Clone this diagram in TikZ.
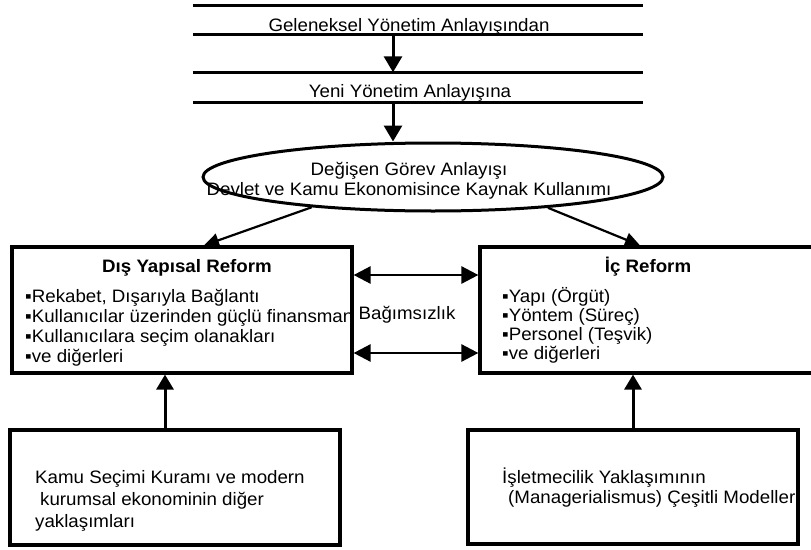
\documentclass[tikz,border=0pt]{standalone}
\usepackage{fontspec}
\setmainfont[FakeStretch=1.04]{Liberation Sans}
\usetikzlibrary{arrows.meta,shapes.geometric}
\begin{document}
\begin{tikzpicture}[x=1pt,y=-1pt,
  txt/.style={inner sep=0pt, font=\fontsize{18}{20}\selectfont},
  ttl/.style={inner sep=0pt, font=\fontsize{18}{20}\selectfont\bfseries},
  bandline/.style={line width=2.8pt},
  boxnode/.style={draw, line width=3.2pt, inner sep=0pt},
  vbig/.style={line width=3pt, -{Triangle[length=16pt,width=18pt]}},
  vup/.style={line width=3pt, -{Triangle[length=15pt,width=17pt]}},
  diag/.style={line width=2.2pt, -{Triangle[length=15pt,width=14pt]}},
  both/.style={line width=2.6pt, {Triangle[length=17pt,width=17pt]}-{Triangle[length=17pt,width=17pt]}},
]
\useasboundingbox (0,0) rectangle (811,549);
\fill[white] (0,0) rectangle (811,549);

% top bands
\node[minimum width=450pt, minimum height=28.5pt, inner sep=0pt] (band1) at (418,19.75) {};
\draw[bandline] (band1.north west) -- (band1.north east) (band1.south west) -- (band1.south east);
\node[txt, anchor=base] (t1) at (409,31) {Geleneksel Yönetim Anlayışından};
\node[minimum width=450pt, minimum height=29.5pt, inner sep=0pt] (band2) at (418,87.25) {};
\draw[bandline] (band2.north west) -- (band2.north east) (band2.south west) -- (band2.south east);
\node[txt, anchor=base] (t2) at (410,97) {Yeni Yönetim Anlayışına};

% ellipse
\node[ellipse, draw, line width=3pt, minimum width=460pt, minimum height=68pt, inner sep=0pt] (ell) at (433,177) {};
\node[txt, anchor=base] (e1) at (409,175) {Değişen Görev Anlayışı};
\node[txt, anchor=base] (e2) at (409,195) {Devlet ve Kamu Ekonomisince Kaynak Kullanımı};

% left box texts
\node[ttl, anchor=base] (lt) at (187,272) {Dış Yapısal Reform};
\node[txt, anchor=base west] (l1) at (25,302) {▪Rekabet, Dışarıyla Bağlantı};
\node[txt, anchor=base west] (l2) at (25,322) {▪Kullanıcılar üzerinden güçlü finansman};
\node[txt, anchor=base west] (l3) at (25,342) {▪Kullanıcılara seçim olanakları};
\node[txt, anchor=base west] (l4) at (25,362) {▪ve diğerleri};

% right box texts
\node[ttl, anchor=base] (rt) at (648,272) {İç Reform};
\node[txt, anchor=base west] (r1) at (502,302) {▪Yapı (Örgüt)};
\node[txt, anchor=base west] (r2) at (502,321) {▪Yöntem (Süreç)};
\node[txt, anchor=base west] (r3) at (502,340) {▪Personel (Teşvik)};
\node[txt, anchor=base west] (r4) at (502,359) {▪ve diğerleri};

\node[txt, anchor=base] (bag) at (407,319) {Bağımsızlık};

% bottom texts
\node[txt, anchor=base west] (b1) at (35,483) {Kamu Seçimi Kuramı ve modern};
\node[txt, anchor=base west] (b2) at (40,505) {kurumsal ekonominin diğer};
\node[txt, anchor=base west] (b3) at (35,527) {yaklaşımları};
\node[txt, anchor=base west] (c1) at (502,483) {İşletmecilik Yaklaşımının};
\node[txt, anchor=base west] (c2) at (508,503) {(Managerialismus) Çeşitli Modelleri};

% boxes
\node[boxnode, minimum width=340pt, minimum height=126pt] (lbox) at (182,310) {};
\node[boxnode, minimum width=334pt, minimum height=126pt] (rbox) at (647,310) {};
\node[boxnode, minimum width=330pt, minimum height=115pt] (bl) at (175,487.5) {};
\node[boxnode, minimum width=330pt, minimum height=114pt] (br) at (633,487) {};

% connectors
\coordinate (ax) at (393,0);
\coordinate (blx) at (165,0);
\coordinate (up) at (0,275);
\coordinate (dn) at (0,353);
\draw[vbig] (band1.south -| ax) -- (band2.north -| ax);
\draw[vbig] (band2.south -| ax) -- (ell.north -| ax);
\draw[diag] (ell.194) -- ([xshift=22pt]lbox.north);
\draw[diag] (ell.345) -- ([xshift=-7pt]rbox.north);
\draw[both] (lbox.east |- up) -- (rbox.west |- up);
\draw[both] (lbox.east |- dn) -- (rbox.west |- dn);
\draw[vup] (bl.north -| blx) -- (lbox.south -| blx);
\draw[vup] (br.north) -- (rbox.south -| br.north);
\end{tikzpicture}
\end{document}
